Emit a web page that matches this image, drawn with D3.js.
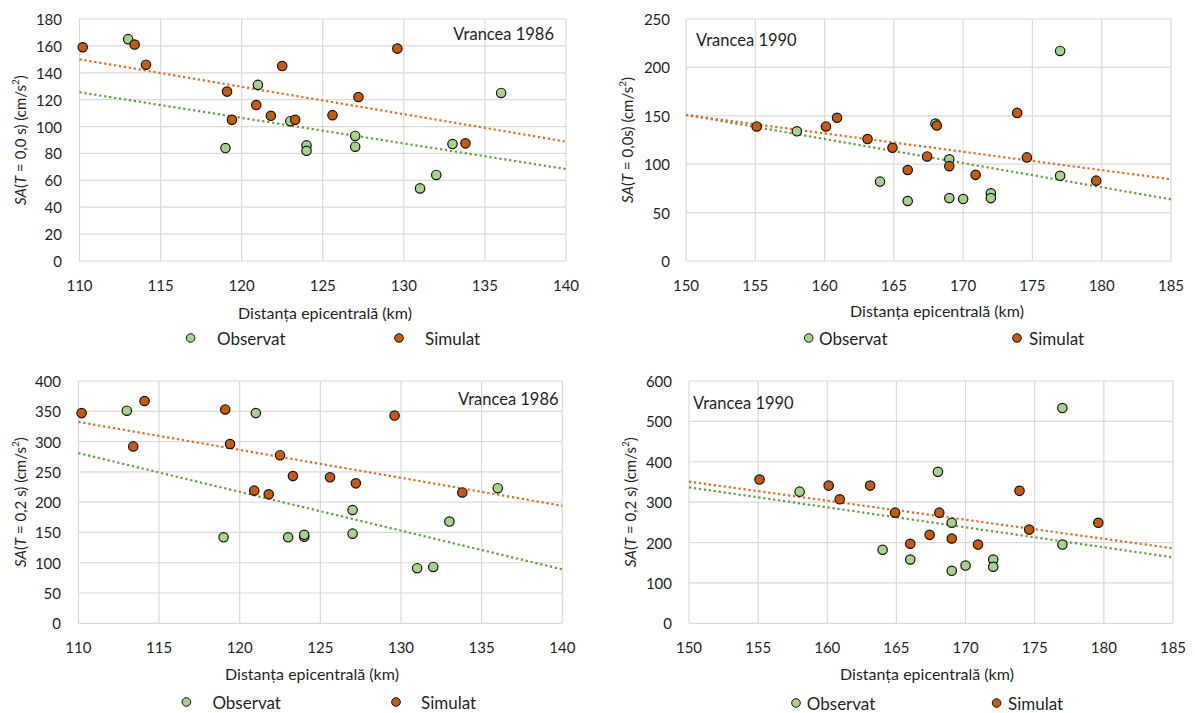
<!DOCTYPE html>
<html>
<head>
<meta charset="utf-8">
<script src="https://cdn.jsdelivr.net/npm/d3@7"></script>
<style>
  body { margin: 0; background: #fff; }
  text { font-family: Lato, "Open Sans", sans-serif; fill: #1f1f1f; }
</style>
</head>
<body>
<script>
// station distances (km)
var obsX86 = [113, 121, 119, 123, 124, 124, 127, 127, 131, 132, 133, 136];
var simX86 = [110.2, 113.4, 114.1, 119.1, 119.4, 120.9, 121.8, 122.5, 123.3, 125.6, 127.2, 129.6, 133.8];
var obsX90 = [158, 164, 166, 168, 169, 169, 170, 172, 172, 177, 177];
var simX90 = [155.1, 160.1, 160.9, 163.1, 164.9, 166, 167.4, 168.1, 169, 170.9, 173.9, 174.6, 179.6];

// SA values (cm/s2)
var obs86T00 = [165, 131, 84, 104, 86, 82, 93, 85, 54, 64, 87, 125];
var sim86T00 = [159, 161, 146, 126, 105, 116, 108, 145, 105, 108.5, 122, 158, 87.5];
var obs90T00 = [134, 82, 62, 142, 105, 65, 64, 70, 65, 217, 88];
var sim90T00 = [139, 139, 148, 126, 117, 94, 108, 140, 98, 89, 153, 107, 83];
var obs86T02 = [351, 347, 142, 142, 143, 146, 187, 148, 91, 93, 168, 223];
var sim86T02 = [347, 292, 367, 353, 296, 219, 213, 277.5, 243, 241, 231, 343, 216];
var obs90T02 = [326, 182, 158, 375, 249, 130, 143, 158, 140, 533, 195];
var sim90T02 = [356, 341, 307, 341, 274, 197, 219, 274, 210, 195, 328, 232, 249];

// trend lines, value at start and end of x axis
var trendObs86T00 = [125.5, 68.4], trendSim86T00 = [150, 88.8];
var trendObs90T00 = [151, 63.7], trendSim90T00 = [150.8, 84.4];
var trendObs86T02 = [281, 89], trendSim86T02 = [332.4, 194];
var trendObs90T02 = [336.7, 163.4], trendSim90T02 = [350.8, 185.7];

var seriesNames = ["Observat", "Simulat"];
var fills = ["#a9d18e", "#c55a11"];
var trendColors = ["#5f9e3c", "#e2691f"];

var w = 1195, h = 713;

var svg = d3.select("body").append("svg")
  .attr("width", w)
  .attr("height", h);

var panels = [
  { left: 79.5, right: 566, top: 19, bottom: 261, xDom: [110, 140], yDom: [0, 180], yStep: 20,
    obsX: obsX86, obs: obs86T00, simX: simX86, sim: sim86T00, tObs: trendObs86T00, tSim: trendSim86T00,
    label: "Vrancea 1986", labelX: 554, labelY: 34, labelAnchor: "end", tPart: " = 0,0 s) (cm/s",
    yTitleX: 20, yLabEdge: 62, xTitleX: 325, xTitleY: 312,
    legY: 338, legMarks: [190.6, 399], legText: [217, 425] },
  { left: 686, right: 1171, top: 19, bottom: 261, xDom: [150, 185], yDom: [0, 250], yStep: 50,
    obsX: obsX90, obs: obs90T00, simX: simX90, sim: sim90T00, tObs: trendObs90T00, tSim: trendSim90T00,
    label: "Vrancea 1990", labelX: 696, labelY: 40, labelAnchor: "start", tPart: " = 0,0s) (cm/s",
    yTitleX: 627, yLabEdge: 670, xTitleX: 937, xTitleY: 310,
    legY: 338, legMarks: [808.7, 1017], legText: [819, 1029] },
  { left: 78.4, right: 562.3, top: 381, bottom: 623.3, xDom: [110, 140], yDom: [0, 400], yStep: 50,
    obsX: obsX86, obs: obs86T02, simX: simX86, sim: sim86T02, tObs: trendObs86T02, tSim: trendSim86T02,
    label: "Vrancea 1986", labelX: 558.6, labelY: 399, labelAnchor: "end", tPart: " = 0,2 s) (cm/s",
    yTitleX: 20, yLabEdge: 61, xTitleX: 312, xTitleY: 673,
    legY: 702, legMarks: [186.4, 396], legText: [212.4, 421] },
  { left: 689, right: 1173, top: 381, bottom: 623.3, xDom: [150, 185], yDom: [0, 600], yStep: 100,
    obsX: obsX90, obs: obs90T02, simX: simX90, sim: sim90T02, tObs: trendObs90T02, tSim: trendSim90T02,
    label: "Vrancea 1990", labelX: 693, labelY: 403, labelAnchor: "start", tPart: " = 0,2 s) (cm/s",
    yTitleX: 630, yLabEdge: 672, xTitleX: 927, xTitleY: 673,
    legY: 703, legMarks: [796, 996.6], legText: [806.8, 1008] }
];

panels.forEach(function(p) {
  var x = d3.scaleLinear().domain(p.xDom).range([p.left, p.right]);
  var y = d3.scaleLinear().domain(p.yDom).range([p.bottom, p.top]);
  var g = svg.append("g");

  var xTicks = d3.range(p.xDom[0], p.xDom[1] + 0.1, 5);
  var yTicks = d3.range(p.yDom[0], p.yDom[1] + 0.1, p.yStep);

  // grid
  g.selectAll(".vg").data(xTicks).enter().append("line")
    .attr("x1", d => x(d)).attr("x2", d => x(d))
    .attr("y1", p.top).attr("y2", p.bottom)
    .attr("stroke", "#d9d9d9").attr("stroke-width", 1.2);
  g.selectAll(".hg").data(yTicks).enter().append("line")
    .attr("x1", p.left).attr("x2", p.right)
    .attr("y1", d => y(d)).attr("y2", d => y(d))
    .attr("stroke", "#d9d9d9").attr("stroke-width", 1.2);

  // tick labels
  g.selectAll(".xl").data(xTicks).enter().append("text")
    .attr("x", d => x(d)).attr("y", p.bottom + 24)
    .attr("text-anchor", "middle").attr("dominant-baseline", "central")
    .attr("font-size", "15px").text(d => d);
  g.selectAll(".yl").data(yTicks).enter().append("text")
    .attr("x", p.yLabEdge).attr("y", d => y(d))
    .attr("text-anchor", "end").attr("dominant-baseline", "central")
    .attr("font-size", "15px").text(d => d);

  // axis titles
  g.append("text")
    .attr("x", p.xTitleX).attr("y", p.xTitleY)
    .attr("text-anchor", "middle").attr("dominant-baseline", "central")
    .attr("font-size", "16px")
    .text("Distanța epicentrală (km)");

  var yt = g.append("text")
    .attr("transform", "translate(" + p.yTitleX + "," + ((p.top + p.bottom) / 2) + ") rotate(-90)")
    .attr("text-anchor", "middle").attr("dominant-baseline", "central")
    .attr("font-size", "15px");
  yt.append("tspan").attr("font-style", "italic").text("SA");
  yt.append("tspan").text("(");
  yt.append("tspan").attr("font-style", "italic").text("T");
  yt.append("tspan").text(p.tPart);
  yt.append("tspan").attr("font-size", "10px").attr("dy", -5).text("2");
  yt.append("tspan").attr("dy", 5).text(")");

  // event label
  g.append("text")
    .attr("x", p.labelX).attr("y", p.labelY)
    .attr("text-anchor", p.labelAnchor).attr("dominant-baseline", "central")
    .attr("font-size", "16.5px").text(p.label);

  // trend lines
  var line = d3.line().x(d => x(d[0])).y(d => y(d[1]));
  [p.tObs, p.tSim].forEach(function(t, i) {
    g.append("path")
      .attr("d", line([[p.xDom[0], t[0]], [p.xDom[1], t[1]]]))
      .attr("fill", "none")
      .attr("stroke", trendColors[i])
      .attr("stroke-width", 2.2)
      .attr("stroke-dasharray", "2.2,2.8");
  });

  // points
  var obsPts = p.obsX.map((d, i) => [d, p.obs[i]]);
  var simPts = p.simX.map((d, i) => [d, p.sim[i]]);
  [obsPts, simPts].forEach(function(pts, i) {
    g.selectAll(".pt" + i).data(pts).enter().append("circle")
      .attr("cx", d => x(d[0])).attr("cy", d => y(d[1]))
      .attr("r", 4.7)
      .attr("fill", fills[i])
      .attr("stroke", "#111").attr("stroke-width", 1.2);
  });

  // legend
  seriesNames.forEach(function(name, i) {
    g.append("circle")
      .attr("cx", p.legMarks[i]).attr("cy", p.legY).attr("r", 4.3)
      .attr("fill", fills[i]).attr("stroke", "#111").attr("stroke-width", 1);
    g.append("text")
      .attr("x", p.legText[i]).attr("y", p.legY)
      .attr("dominant-baseline", "central")
      .attr("font-size", "17px").text(name);
  });
});
</script>
</body>
</html>
